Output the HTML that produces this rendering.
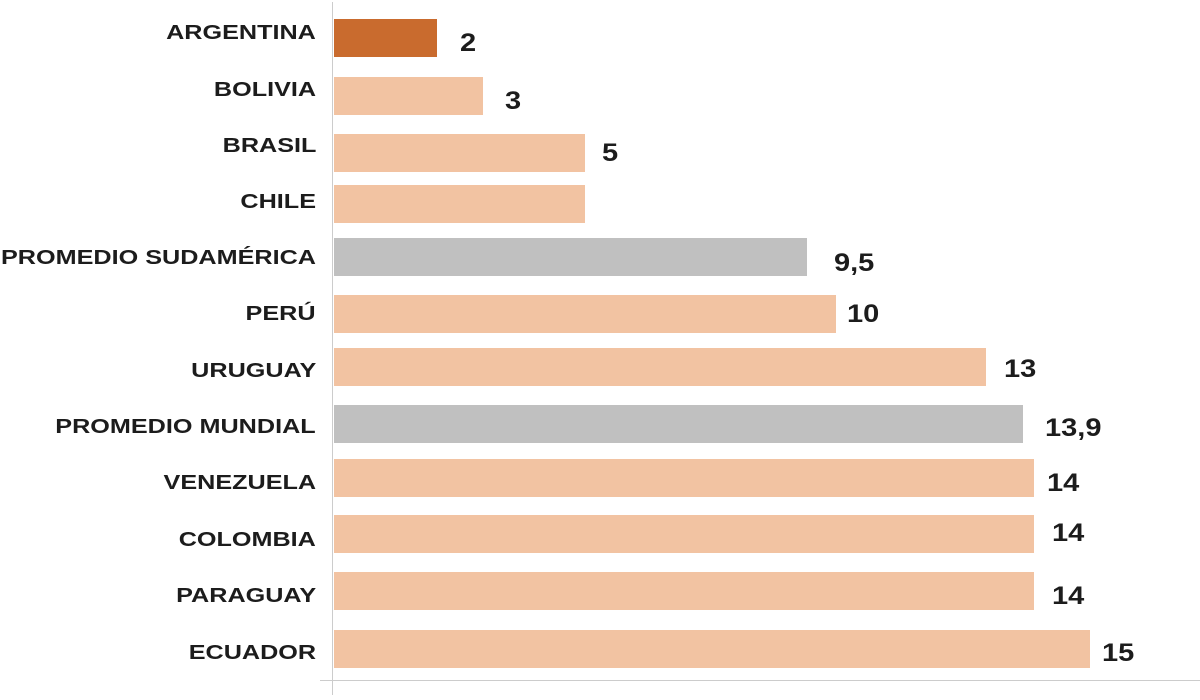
<!DOCTYPE html>
<html><head><meta charset="utf-8"><style>
body{margin:0;width:1200px;height:700px;background:#fff;position:relative;overflow:hidden;font-family:"Liberation Sans",sans-serif;}
.b{position:absolute;left:334px;height:38px;background:#f2c3a2;}
.l{position:absolute;right:884px;font-weight:bold;font-size:20px;color:#1c1c1c;line-height:38px;white-space:nowrap;transform:scaleX(1.26);transform-origin:right center;}
.v{position:absolute;font-weight:bold;font-size:25px;color:#1c1c1c;line-height:30px;transform:scaleX(1.16);transform-origin:left center;}
</style></head><body>
<div style="position:absolute;left:332px;top:2px;width:1px;height:693px;background:#ccc"></div>
<div style="position:absolute;left:320px;top:680px;width:880px;height:1px;background:#ccc"></div>

<div class="l" style="top:14px">ARGENTINA</div><div class="b" style="top:19px;width:103px;background:#c96b2e"></div><div class="v" style="left:460px;top:28px">2</div>
<div class="l" style="top:71px">BOLIVIA</div><div class="b" style="top:77px;width:149px"></div><div class="v" style="left:505px;top:86px">3</div>
<div class="l" style="top:127px">BRASIL</div><div class="b" style="top:134px;width:251px"></div><div class="v" style="left:602px;top:138px">5</div>
<div class="l" style="top:183px">CHILE</div><div class="b" style="top:185px;width:251px"></div>
<div class="l" style="top:239px">PROMEDIO SUDAMÉRICA</div><div class="b" style="top:238px;width:473px;background:#c0c0c0"></div><div class="v" style="left:834px;top:248px">9,5</div>
<div class="l" style="top:295px">PERÚ</div><div class="b" style="top:295px;width:502px"></div><div class="v" style="left:847px;top:299px">10</div>
<div class="l" style="top:352px">URUGUAY</div><div class="b" style="top:348px;width:652px"></div><div class="v" style="left:1004px;top:354px">13</div>
<div class="l" style="top:408px">PROMEDIO MUNDIAL</div><div class="b" style="top:405px;width:689px;background:#c0c0c0"></div><div class="v" style="left:1045px;top:413px">13,9</div>
<div class="l" style="top:464px">VENEZUELA</div><div class="b" style="top:459px;width:700px"></div><div class="v" style="left:1047px;top:468px">14</div>
<div class="l" style="top:521px">COLOMBIA</div><div class="b" style="top:515px;width:700px"></div><div class="v" style="left:1052px;top:518px">14</div>
<div class="l" style="top:577px">PARAGUAY</div><div class="b" style="top:572px;width:700px"></div><div class="v" style="left:1052px;top:581px">14</div>
<div class="l" style="top:634px">ECUADOR</div><div class="b" style="top:630px;width:756px"></div><div class="v" style="left:1102px;top:638px">15</div>
</body></html>
